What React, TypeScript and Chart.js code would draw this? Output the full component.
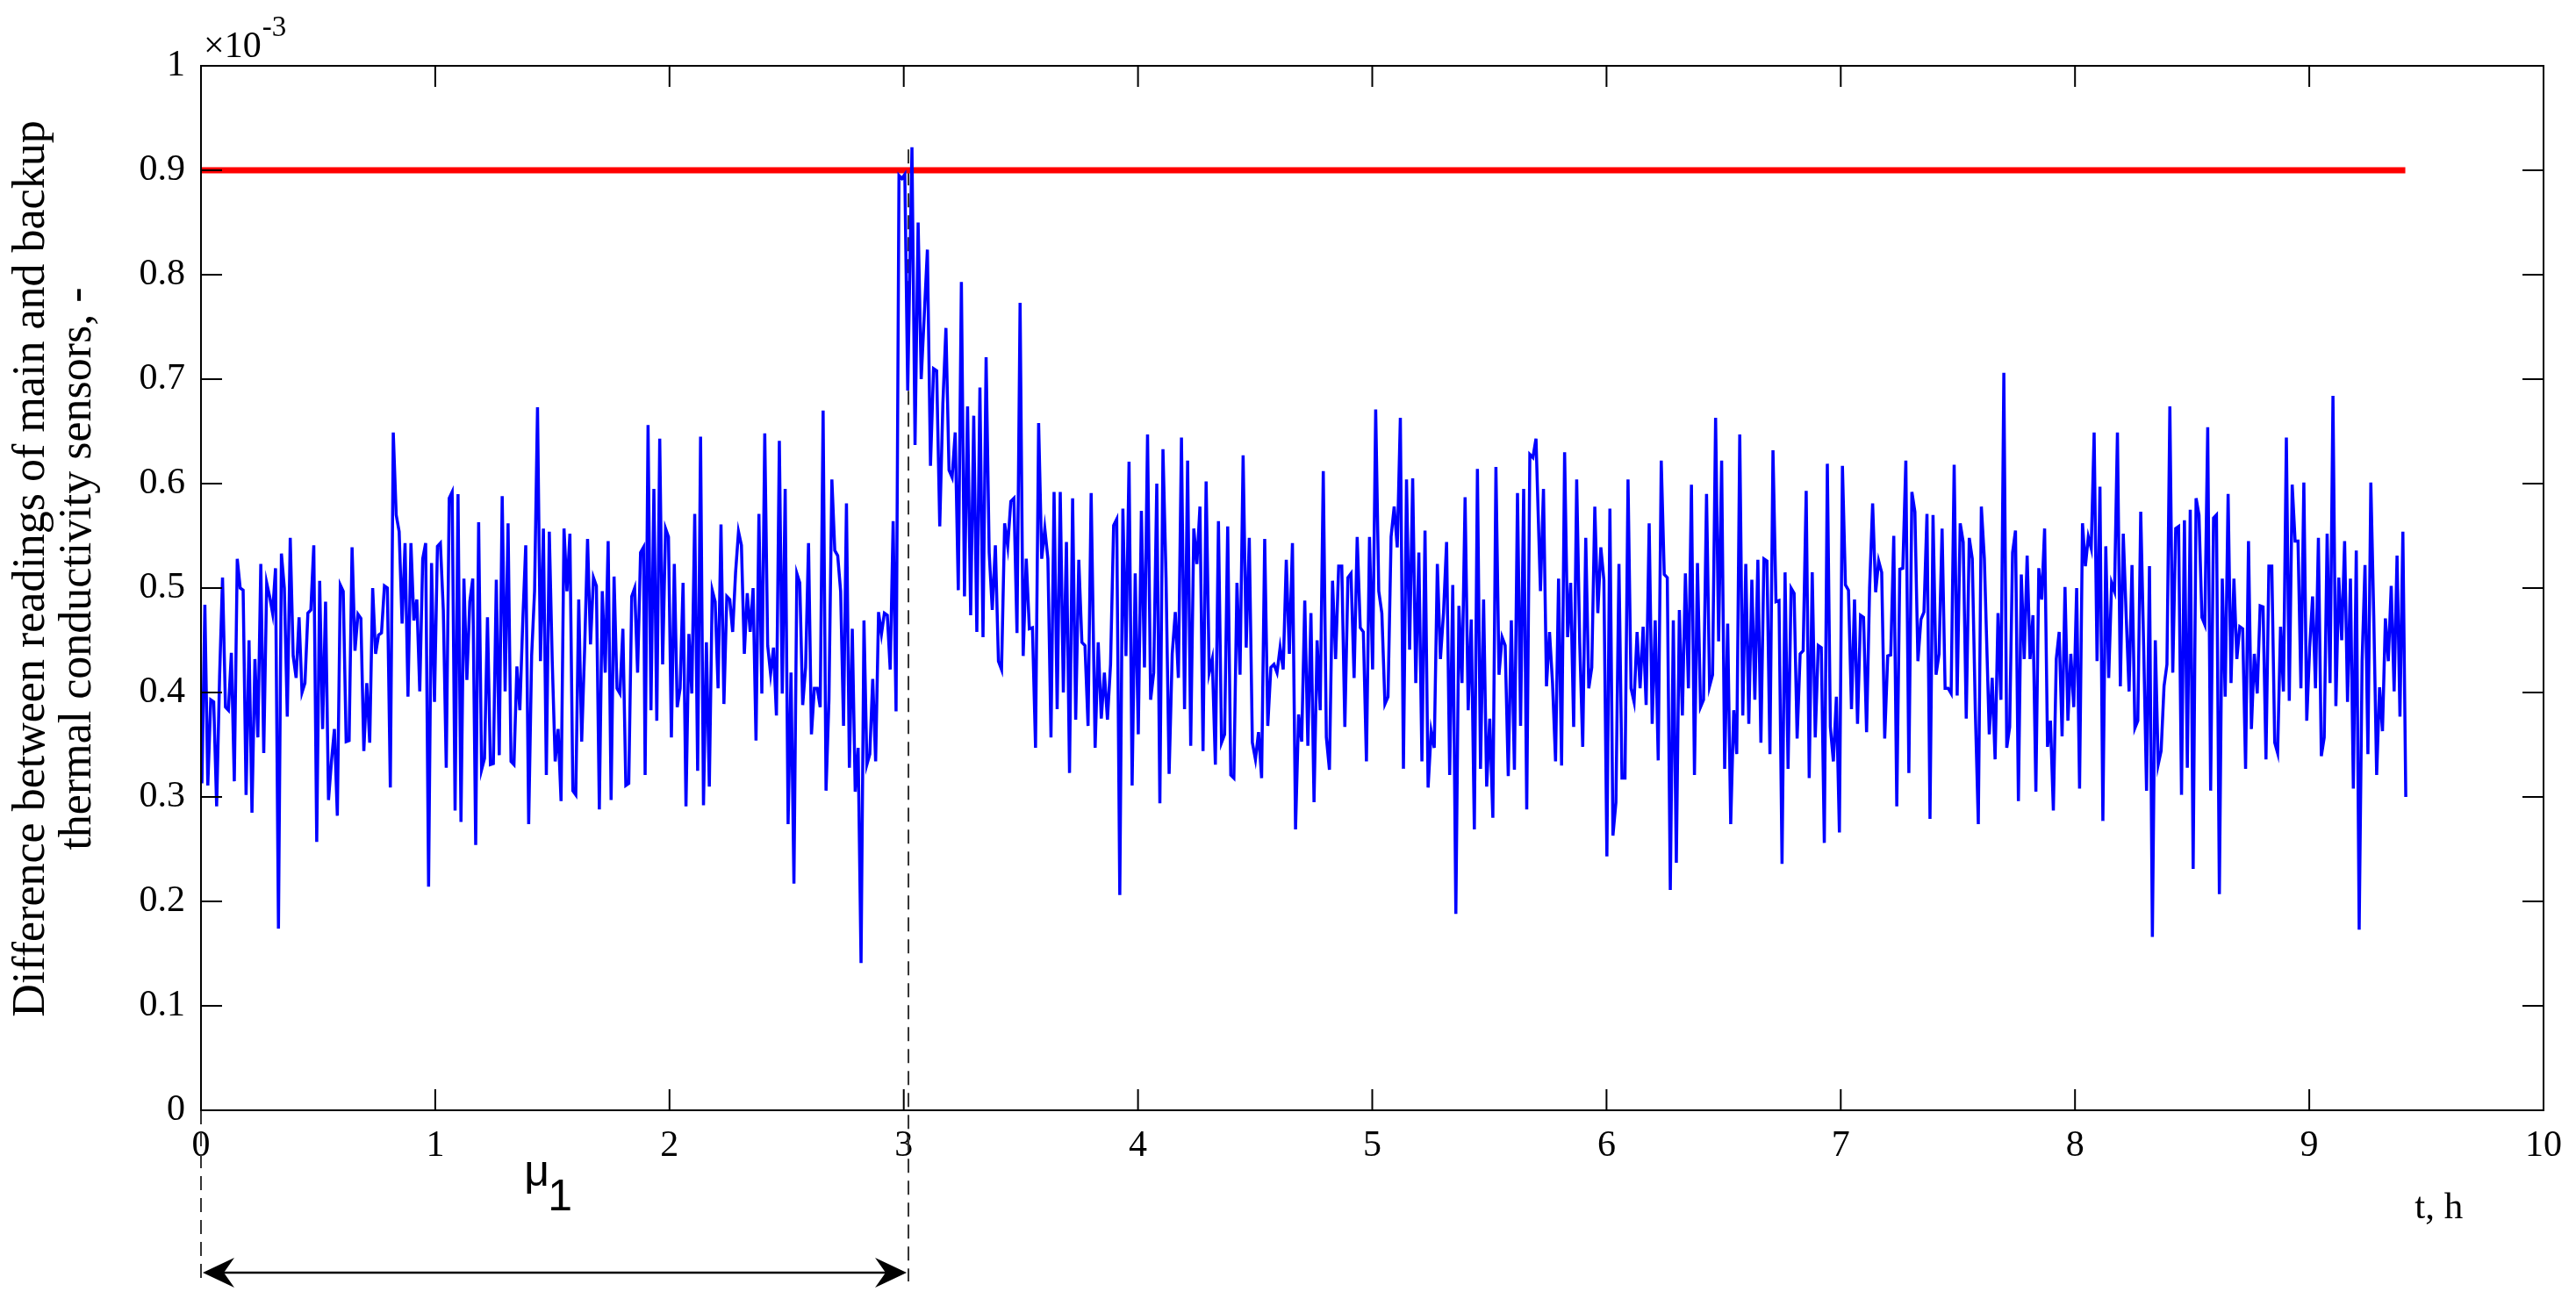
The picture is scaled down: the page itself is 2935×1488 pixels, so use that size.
import React, { useEffect, useRef } from 'react';
import { Chart, registerables } from 'chart.js';

Chart.register(...registerables);

// ---- Data (values in units of 1e-3) ----
const THRESHOLD = 0.9;
const THRESHOLD_END_H = 9.41;
const MU_END_H = 3.02;
const MU_LABEL_H = 1.38;

const X_MIN = 0;
const X_MAX = 10;
const X_STEP = 1;
const Y_MIN = 0;
const Y_MAX = 1;
const Y_STEP = 0.1;

const Y_TITLE = ['Difference between readings of main and backup', 'thermal conductivity sensors, -'];
const X_TITLE = 't, h';
const Y_EXP_BASE = '\u00d710';
const Y_EXP_POWER = '-3';
const MU_LABEL = '\u03bc';
const MU_SUB = '1';

// time span (hours) covered by each recorded block of samples
const SEGMENT_START_H = [0.004, 1.896, 3.035, 3.817, 5.718, 7.634];
const SEGMENT_END_H = [1.889, 3.017, 3.8, 5.699, 7.613, 9.412];

const SEG1 = [
  0.313, 0.484, 0.311, 0.393, 0.391, 0.291, 0.415, 0.51, 0.386, 0.383,
  0.438, 0.315, 0.528, 0.5, 0.498, 0.302, 0.45, 0.285, 0.432, 0.357,
  0.523, 0.342, 0.505, 0.492, 0.476, 0.519, 0.174, 0.533, 0.5, 0.377,
  0.548, 0.435, 0.414, 0.472, 0.4, 0.409, 0.476, 0.479, 0.541, 0.257,
  0.507, 0.365, 0.487, 0.297, 0.334, 0.365, 0.282, 0.503, 0.497, 0.353,
  0.354, 0.539, 0.44, 0.475, 0.471, 0.344, 0.409, 0.352, 0.5, 0.437,
  0.455, 0.457, 0.502, 0.5, 0.309, 0.649, 0.57, 0.554, 0.466, 0.543,
  0.396, 0.543, 0.469, 0.489, 0.401, 0.528, 0.543, 0.214, 0.524, 0.391,
  0.54, 0.543, 0.479, 0.328, 0.586, 0.592, 0.287, 0.59, 0.276, 0.509,
  0.412, 0.487, 0.509, 0.254, 0.563, 0.326, 0.337, 0.472, 0.331, 0.332,
  0.508, 0.34, 0.588, 0.401, 0.562, 0.334, 0.331, 0.425, 0.383, 0.469,
  0.541, 0.274, 0.435, 0.497, 0.673, 0.43, 0.557, 0.321, 0.554, 0.43,
  0.334, 0.365, 0.296, 0.557, 0.497, 0.552, 0.306, 0.302, 0.489, 0.353,
  0.441, 0.547, 0.446, 0.51, 0.502, 0.288, 0.497, 0.419, 0.545, 0.297,
  0.511, 0.404, 0.399, 0.461, 0.311, 0.313, 0.492, 0.5, 0.419, 0.534,
  0.539,
];

const SEG2 = [
  0.321, 0.656, 0.383, 0.595, 0.373, 0.643, 0.427, 0.557, 0.549, 0.357,
  0.523, 0.386, 0.404, 0.505, 0.291, 0.456, 0.399, 0.571, 0.325, 0.645,
  0.292, 0.448, 0.31, 0.498, 0.487, 0.404, 0.561, 0.389, 0.492, 0.489,
  0.458, 0.515, 0.554, 0.541, 0.437, 0.495, 0.458, 0.5, 0.354, 0.571,
  0.399, 0.648, 0.445, 0.418, 0.443, 0.378, 0.641, 0.399, 0.595, 0.274,
  0.419, 0.217, 0.514, 0.505, 0.388, 0.424, 0.543, 0.36, 0.404, 0.404,
  0.386, 0.67, 0.306, 0.393, 0.604, 0.536, 0.531, 0.497, 0.368, 0.581,
  0.328, 0.461, 0.305, 0.347, 0.141, 0.469, 0.331, 0.341, 0.413, 0.334,
  0.477, 0.456, 0.476, 0.474, 0.422, 0.564, 0.382, 0.895, 0.892, 0.896,
  0.689,
];

const SEG3 = [
  0.922, 0.637, 0.85, 0.7, 0.762, 0.824, 0.617, 0.71, 0.708, 0.559,
  0.676, 0.749, 0.613, 0.606, 0.649, 0.498, 0.793, 0.492, 0.674, 0.474,
  0.665, 0.458, 0.692, 0.453, 0.721, 0.534, 0.479, 0.541, 0.43, 0.422,
  0.562, 0.54, 0.583, 0.586, 0.457, 0.773, 0.435, 0.528, 0.461, 0.462,
  0.347, 0.658, 0.528, 0.557, 0.528, 0.357, 0.592, 0.384, 0.592, 0.4,
  0.544, 0.323, 0.586, 0.374, 0.527, 0.448, 0.445, 0.368, 0.591,
];

const SEG4 = [
  0.347, 0.448, 0.375, 0.419, 0.374, 0.427, 0.56, 0.566, 0.206, 0.576,
  0.435, 0.621, 0.311, 0.514, 0.36, 0.574, 0.424, 0.647, 0.393, 0.419,
  0.6, 0.294, 0.633, 0.51, 0.322, 0.437, 0.477, 0.414, 0.644, 0.384,
  0.622, 0.349, 0.557, 0.523, 0.578, 0.344, 0.602, 0.419, 0.432, 0.331,
  0.564, 0.352, 0.36, 0.559, 0.321, 0.318, 0.505, 0.417, 0.627, 0.443,
  0.548, 0.352, 0.336, 0.362, 0.318, 0.547, 0.368, 0.424, 0.427, 0.419,
  0.443, 0.422, 0.527, 0.437, 0.543, 0.269, 0.379, 0.353, 0.488, 0.349,
  0.476, 0.295, 0.45, 0.383, 0.612, 0.357, 0.326, 0.507, 0.432, 0.521,
  0.521, 0.367, 0.51, 0.514, 0.414, 0.549, 0.462, 0.458, 0.334, 0.549,
  0.422, 0.671, 0.497, 0.476, 0.389, 0.396, 0.549, 0.578, 0.539, 0.663,
  0.327, 0.604, 0.441, 0.605, 0.409, 0.534, 0.334, 0.555, 0.309, 0.363,
  0.347, 0.523, 0.432, 0.476, 0.544, 0.321, 0.503, 0.188, 0.483, 0.409,
  0.587, 0.383, 0.47, 0.269, 0.614, 0.327, 0.489, 0.31, 0.375, 0.28,
  0.616, 0.417, 0.453, 0.445, 0.32, 0.469, 0.326, 0.591, 0.368, 0.595,
  0.288, 0.628, 0.625, 0.643,
];

const SEG5 = [
  0.497, 0.595, 0.406, 0.458, 0.409, 0.334, 0.509, 0.33, 0.63, 0.453,
  0.505, 0.367, 0.604, 0.448, 0.348, 0.548, 0.404, 0.424, 0.578, 0.476,
  0.539, 0.508, 0.243, 0.576, 0.263, 0.295, 0.523, 0.318, 0.318, 0.604,
  0.404, 0.391, 0.458, 0.404, 0.463, 0.388, 0.562, 0.37, 0.469, 0.335,
  0.622, 0.513, 0.51, 0.211, 0.469, 0.237, 0.479, 0.378, 0.514, 0.404,
  0.599, 0.321, 0.524, 0.386, 0.393, 0.59, 0.406, 0.417, 0.663, 0.449,
  0.622, 0.327, 0.466, 0.274, 0.383, 0.341, 0.647, 0.378, 0.523, 0.37,
  0.508, 0.393, 0.527, 0.352, 0.528, 0.526, 0.341, 0.632, 0.487, 0.488,
  0.236, 0.515, 0.327, 0.5, 0.495, 0.356, 0.437, 0.44, 0.593, 0.318,
  0.515, 0.357, 0.445, 0.443, 0.256, 0.619, 0.367, 0.334, 0.396, 0.266,
  0.617, 0.503, 0.498, 0.384, 0.489, 0.37, 0.474, 0.472, 0.362, 0.5,
  0.581, 0.496, 0.526, 0.515, 0.356, 0.435, 0.436, 0.55, 0.291, 0.518,
  0.519, 0.622, 0.323, 0.592, 0.573, 0.43, 0.47, 0.477, 0.571, 0.279,
  0.57, 0.417, 0.437, 0.557, 0.404, 0.404, 0.399, 0.618, 0.397, 0.562,
  0.544, 0.375, 0.548, 0.528, 0.383, 0.274, 0.578, 0.528,
];

const SEG6 = [
  0.36, 0.414, 0.336, 0.476, 0.393, 0.706, 0.347, 0.367, 0.534, 0.555,
  0.296, 0.513, 0.432, 0.531, 0.432, 0.474, 0.305, 0.519, 0.489, 0.557,
  0.348, 0.373, 0.287, 0.432, 0.458, 0.358, 0.501, 0.373, 0.437, 0.386,
  0.5, 0.308, 0.562, 0.521, 0.549, 0.538, 0.649, 0.43, 0.597, 0.277,
  0.54, 0.414, 0.505, 0.497, 0.649, 0.406, 0.552, 0.474, 0.401, 0.522,
  0.366, 0.373, 0.573, 0.445, 0.306, 0.521, 0.166, 0.45, 0.331, 0.344,
  0.406, 0.427, 0.674, 0.419, 0.557, 0.559, 0.302, 0.565, 0.328, 0.575,
  0.231, 0.586, 0.57, 0.472, 0.465, 0.654, 0.306, 0.567, 0.57, 0.207,
  0.509, 0.396, 0.59, 0.409, 0.509, 0.432, 0.463, 0.461, 0.327, 0.545,
  0.365, 0.437, 0.399, 0.483, 0.482, 0.336, 0.521, 0.521, 0.352, 0.342,
  0.463, 0.401, 0.644, 0.392, 0.599, 0.545, 0.545, 0.404, 0.601, 0.373,
  0.443, 0.492, 0.404, 0.548, 0.339, 0.357, 0.552, 0.409, 0.684, 0.387,
  0.51, 0.45, 0.545, 0.391, 0.509, 0.308, 0.536, 0.173, 0.43, 0.522,
  0.341, 0.601, 0.474, 0.321, 0.405, 0.363, 0.471, 0.43, 0.502, 0.401,
  0.531, 0.377, 0.554, 0.3,
];

const SEGMENTS = [SEG1, SEG2, SEG3, SEG4, SEG5, SEG6];

function buildSeries() {
  const pts: { x: number; y: number }[] = [];
  SEGMENTS.forEach((vals, s) => {
    const t0 = SEGMENT_START_H[s];
    const t1 = SEGMENT_END_H[s];
    const n = vals.length;
    vals.forEach((v, i) => {
      pts.push({ x: t0 + ((t1 - t0) * i) / (n - 1), y: v });
    });
  });
  return pts;
}

const SERIF = '"Liberation Serif", "Times New Roman", serif';
const SANS = '"Liberation Sans", Arial, sans-serif';

function arrowHead(ctx: CanvasRenderingContext2D, tipX: number, y: number, dir: number) {
  const len = 36;
  const half = 17;
  const notch = 12;
  ctx.beginPath();
  ctx.moveTo(tipX, y);
  ctx.lineTo(tipX + dir * len, y - half);
  ctx.lineTo(tipX + dir * (len - notch), y);
  ctx.lineTo(tipX + dir * len, y + half);
  ctx.closePath();
  ctx.fill();
}

const decorPlugin = {
  id: 'decor',
  beforeDatasetsDraw(chart: any) {
    const { ctx, scales } = chart;
    const x = scales.x;
    const y = scales.y;
    const yBottom = y.getPixelForValue(Y_MIN);
    const yEnd = yBottom + 195;
    ctx.save();
    ctx.strokeStyle = '#333333';
    ctx.lineWidth = 2;
    ctx.setLineDash([16, 9]);
    const xm = x.getPixelForValue(MU_END_H);
    ctx.beginPath();
    ctx.moveTo(xm, y.getPixelForValue(0.92));
    ctx.lineTo(xm, yEnd);
    ctx.stroke();
    const x0 = x.getPixelForValue(X_MIN);
    ctx.beginPath();
    ctx.moveTo(x0, yBottom);
    ctx.lineTo(x0, yEnd);
    ctx.stroke();
    ctx.restore();
  },
  afterDraw(chart: any) {
    const { ctx, chartArea, scales } = chart;
    const x = scales.x;
    const y = scales.y;
    const { left, right, top, bottom } = chartArea;
    ctx.save();
    // box
    ctx.strokeStyle = '#000';
    ctx.lineWidth = 2;
    ctx.setLineDash([]);
    ctx.strokeRect(left, top, right - left, bottom - top);
    // inward ticks on all four sides
    const tl = 24;
    ctx.beginPath();
    x.ticks.forEach((t: any) => {
      const px = x.getPixelForValue(t.value);
      ctx.moveTo(px, bottom);
      ctx.lineTo(px, bottom - tl);
      ctx.moveTo(px, top);
      ctx.lineTo(px, top + tl);
    });
    y.ticks.forEach((t: any) => {
      const py = y.getPixelForValue(t.value);
      ctx.moveTo(left, py);
      ctx.lineTo(left + tl, py);
      ctx.moveTo(right, py);
      ctx.lineTo(right - tl, py);
    });
    ctx.stroke();

    ctx.fillStyle = '#000';
    // exponent label
    ctx.textAlign = 'left';
    ctx.textBaseline = 'alphabetic';
    ctx.font = `42px ${SERIF}`;
    ctx.fillText(Y_EXP_BASE, left + 3, top - 10);
    const w = ctx.measureText(Y_EXP_BASE).width;
    ctx.font = `33px ${SERIF}`;
    ctx.fillText(Y_EXP_POWER, left + 3 + w + 1, top - 34);

    // y title (two lines, rotated)
    ctx.font = `52px ${SERIF}`;
    ctx.textAlign = 'center';
    const cy = (top + bottom) / 2 - 22;
    [50, 103].forEach((bx, i) => {
      ctx.save();
      ctx.translate(bx, cy);
      ctx.rotate(-Math.PI / 2);
      ctx.fillText(Y_TITLE[i], 0, 0);
      ctx.restore();
    });

    // x title
    ctx.textAlign = 'left';
    ctx.font = `43px ${SERIF}`;
    ctx.fillText(X_TITLE, x.getPixelForValue(9.45), bottom + 123);

    // mu_1 label
    const mx = x.getPixelForValue(MU_LABEL_H);
    ctx.font = `50px ${SANS}`;
    ctx.fillText(MU_LABEL, mx, bottom + 86);
    const mw = ctx.measureText(MU_LABEL).width;
    ctx.fillText(MU_SUB, mx + mw - 2, bottom + 114);

    // double-headed arrow
    const ay = bottom + 185;
    const ax0 = x.getPixelForValue(X_MIN) + 2;
    const ax1 = x.getPixelForValue(MU_END_H) - 2;
    ctx.lineWidth = 2.5;
    ctx.beginPath();
    ctx.moveTo(ax0 + 20, ay);
    ctx.lineTo(ax1 - 20, ay);
    ctx.stroke();
    arrowHead(ctx, ax0, ay, 1);
    arrowHead(ctx, ax1, ay, -1);
    ctx.restore();
  },
};

export default function App() {
  const canvasRef = useRef<HTMLCanvasElement | null>(null);

  useEffect(() => {
    const canvas = canvasRef.current;
    if (!canvas) return;
    const series = buildSeries();
    const chart = new Chart(canvas, {
      type: 'line',
      data: {
        datasets: [
          {
            data: series,
            borderColor: '#0000ff',
            borderWidth: 3.5,
            pointRadius: 0,
            tension: 0,
            fill: false,
            order: 0,
          },
          {
            data: [
              { x: X_MIN, y: THRESHOLD },
              { x: THRESHOLD_END_H, y: THRESHOLD },
            ],
            borderColor: '#ff0000',
            borderWidth: 7,
            pointRadius: 0,
            tension: 0,
            fill: false,
            order: 1,
          },
        ],
      },
      options: {
        animation: false,
        responsive: true,
        maintainAspectRatio: false,
        layout: { padding: { left: 0, right: 37, top: 75, bottom: 143 } },
        plugins: {
          legend: { display: false },
          tooltip: { enabled: false },
          title: { display: false },
        },
        scales: {
          x: {
            type: 'linear',
            min: X_MIN,
            max: X_MAX,
            grid: { display: false, drawTicks: false },
            border: { display: false },
            ticks: {
              stepSize: X_STEP,
              autoSkip: false,
              maxRotation: 0,
              padding: 16,
              color: '#000',
              font: { family: SERIF, size: 42 },
              callback: (v: any) => String(v),
            },
            afterFit: (s: any) => {
              s.height = 80;
            },
          },
          y: {
            type: 'linear',
            min: Y_MIN,
            max: Y_MAX,
            grid: { display: false, drawTicks: false },
            border: { display: false },
            ticks: {
              stepSize: Y_STEP,
              autoSkip: false,
              padding: 18,
              color: '#000',
              font: { family: SERIF, size: 42 },
              callback: (v: any) => String(Math.round(Number(v) * 10) / 10),
            },
            afterFit: (s: any) => {
              s.width = 229;
            },
          },
        },
      },
      plugins: [decorPlugin],
    } as any);
    return () => chart.destroy();
  }, []);

  return (
    <div
      style={{
        position: 'fixed',
        left: 0,
        top: 0,
        width: '2935px',
        height: '1488px',
        background: '#fff',
      }}
    >
      <canvas ref={canvasRef} />
    </div>
  );
}
